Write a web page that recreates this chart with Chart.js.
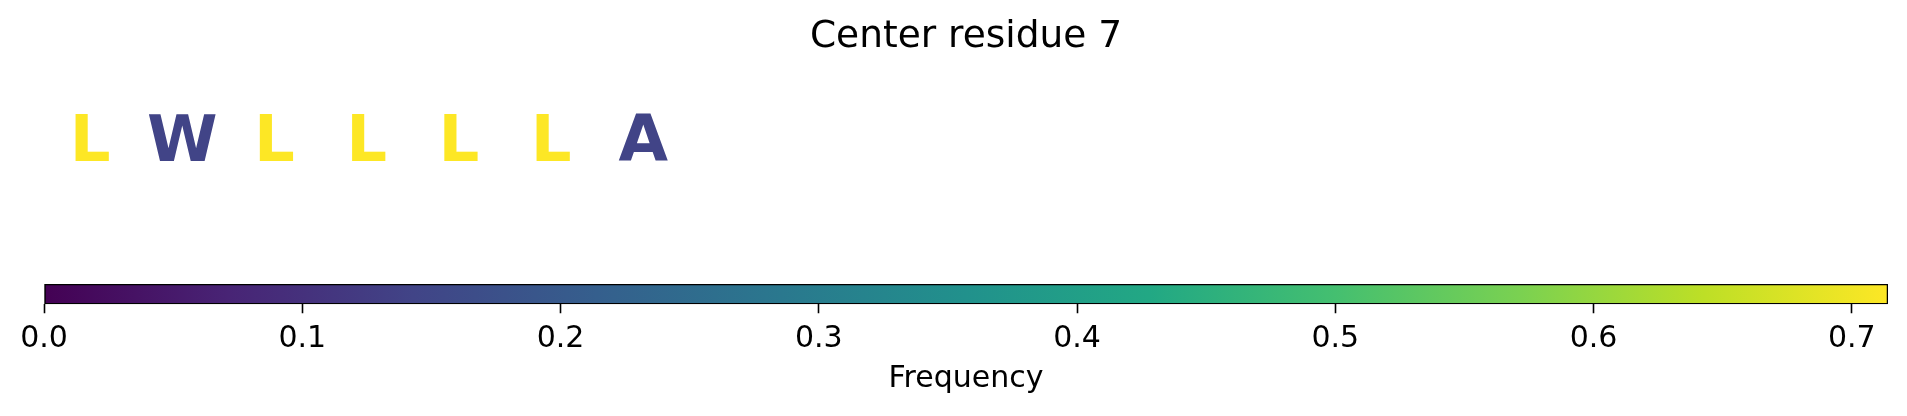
<!DOCTYPE html>
<html>
<head>
<meta charset="utf-8">
<script src="https://cdn.jsdelivr.net/npm/chart.js@4.4.1/dist/chart.umd.min.js"></script>
<style>
    html, body { margin: 0; padding: 0; background: #fff; }
</style>
</head>
<body>
<canvas id="residue-chart" width="1907" height="416"></canvas>
<script>
// values
const residues = ['L', 'W', 'L', 'L', 'L', 'L', 'A'];
const positions = [0, 1, 2, 3, 4, 5, 6];
const frequencies = [0.714, 0.143, 0.714, 0.714, 0.714, 0.714, 0.143];
const freqRange = [0, 0.714];
const tickLabels = ['0.0', '0.1', '0.2', '0.3', '0.4', '0.5', '0.6', '0.7'];

// viridis, sampled every 0.1
const viridis = ['#440154', '#482475', '#414487', '#355f8d', '#2a788e', '#21918c',
    '#22a884', '#44bf70', '#7ad151', '#bddf26', '#fde725'];

function hexToRgb(h) {
    return [parseInt(h.slice(1, 3), 16), parseInt(h.slice(3, 5), 16), parseInt(h.slice(5, 7), 16)];
}

function viridisAt(t) {
    t = Math.min(1, Math.max(0, t));
    let pos = t * (viridis.length - 1);
    let i = Math.min(Math.floor(pos), viridis.length - 2);
    let f = pos - i;
    let a = hexToRgb(viridis[i]), b = hexToRgb(viridis[i + 1]);
    let c = a.map((v, k) => Math.round(v + (b[k] - v) * f));
    return 'rgb(' + c.join(',') + ')';
}

const font = 'DejaVu Sans';

// writes each residue letter where the scales put its point
const letterPlugin = {
    id: 'letters',
    afterDatasetsDraw(chart) {
        let meta = chart.getDatasetMeta(1);
        let ctx = chart.ctx;
        ctx.save();
        ctx.font = 'bold 64px "' + font + '"';
        ctx.textAlign = 'center';
        ctx.textBaseline = 'middle';
        meta.data.forEach(function (pt, i) {
            ctx.fillStyle = viridisAt((frequencies[i] - freqRange[0]) / (freqRange[1] - freqRange[0]));
            ctx.fillText(residues[i], pt.x, pt.y);
        });
        ctx.restore();
    }
};

const ctx = document.getElementById('residue-chart').getContext('2d');
const chart = new Chart(ctx, {
    type: 'bar',
    data: {
        datasets: [{
            // the colour bar
            type: 'bar',
            indexAxis: 'y',
            xAxisID: 'x',
            yAxisID: 'yCbar',
            data: [freqRange],
            grouped: false,
            barPercentage: 1,
            categoryPercentage: 1,
            borderColor: '#000',
            borderWidth: 1.6,
            borderSkipped: false,
            backgroundColor: function (c) {
                let ch = c.chart;
                if (!ch.chartArea) return viridis[0];
                let xs = ch.scales.x;
                let g = ch.ctx.createLinearGradient(xs.getPixelForValue(freqRange[0]), 0, xs.getPixelForValue(freqRange[1]), 0);
                viridis.forEach(function (col, i) {
                    g.addColorStop(i / (viridis.length - 1), col);
                });
                return g;
            }
        }, {
            type: 'scatter',
            xAxisID: 'xPos',
            yAxisID: 'yLetters',
            data: positions.map(function (p) { return {x: p, y: 0}; }),
            pointRadius: 0
        }]
    },
    options: {
        responsive: false,
        animation: false,
        layout: {padding: {left: 44, right: 19, top: 0, bottom: 24.5}},
        plugins: {
            legend: {display: false},
            tooltip: {enabled: false},
            title: {
                display: true,
                fullSize: false,
                text: 'Center residue 7',
                color: '#000',
                font: {family: font, size: 37.5, weight: 'normal'},
                padding: {top: 14.5, bottom: 20.5}
            }
        },
        scales: {
            // listed bottom-up: the last one is stacked on top
            yCbar: {type: 'category', labels: ['cbar'], offset: true, display: false, position: 'left', stack: 'panel', stackWeight: 20.3},
            yGap: {type: 'linear', display: false, position: 'left', stack: 'panel', stackWeight: 75},
            yLetters: {type: 'linear', display: false, min: -1, max: 1, position: 'left', stack: 'panel', stackWeight: 129},
            x: {
                type: 'linear',
                position: 'bottom',
                min: freqRange[0],
                max: freqRange[1],
                offset: false,
                border: {display: false},
                grid: {offset: false, drawOnChartArea: false, drawTicks: true, tickLength: 9, tickWidth: 1.6, tickColor: '#000'},
                ticks: {
                    stepSize: 0.1,
                    includeBounds: false,
                    autoSkip: false,
                    maxRotation: 0,
                    padding: 11,
                    color: '#000',
                    font: {family: font, size: 30, lineHeight: 1},
                    callback: function (v) { return tickLabels[Math.round(v * 10)]; }
                },
                title: {
                    display: true,
                    text: 'Frequency',
                    color: '#000',
                    font: {family: font, size: 30, lineHeight: 0.85},
                    padding: {top: 0.75, bottom: 0}
                }
            },
            xPos: {type: 'linear', display: false, offset: false, grid: {offset: false}, min: -0.5, max: 19.5}
        }
    },
    plugins: [letterPlugin]
});
</script>
</body>
</html>
